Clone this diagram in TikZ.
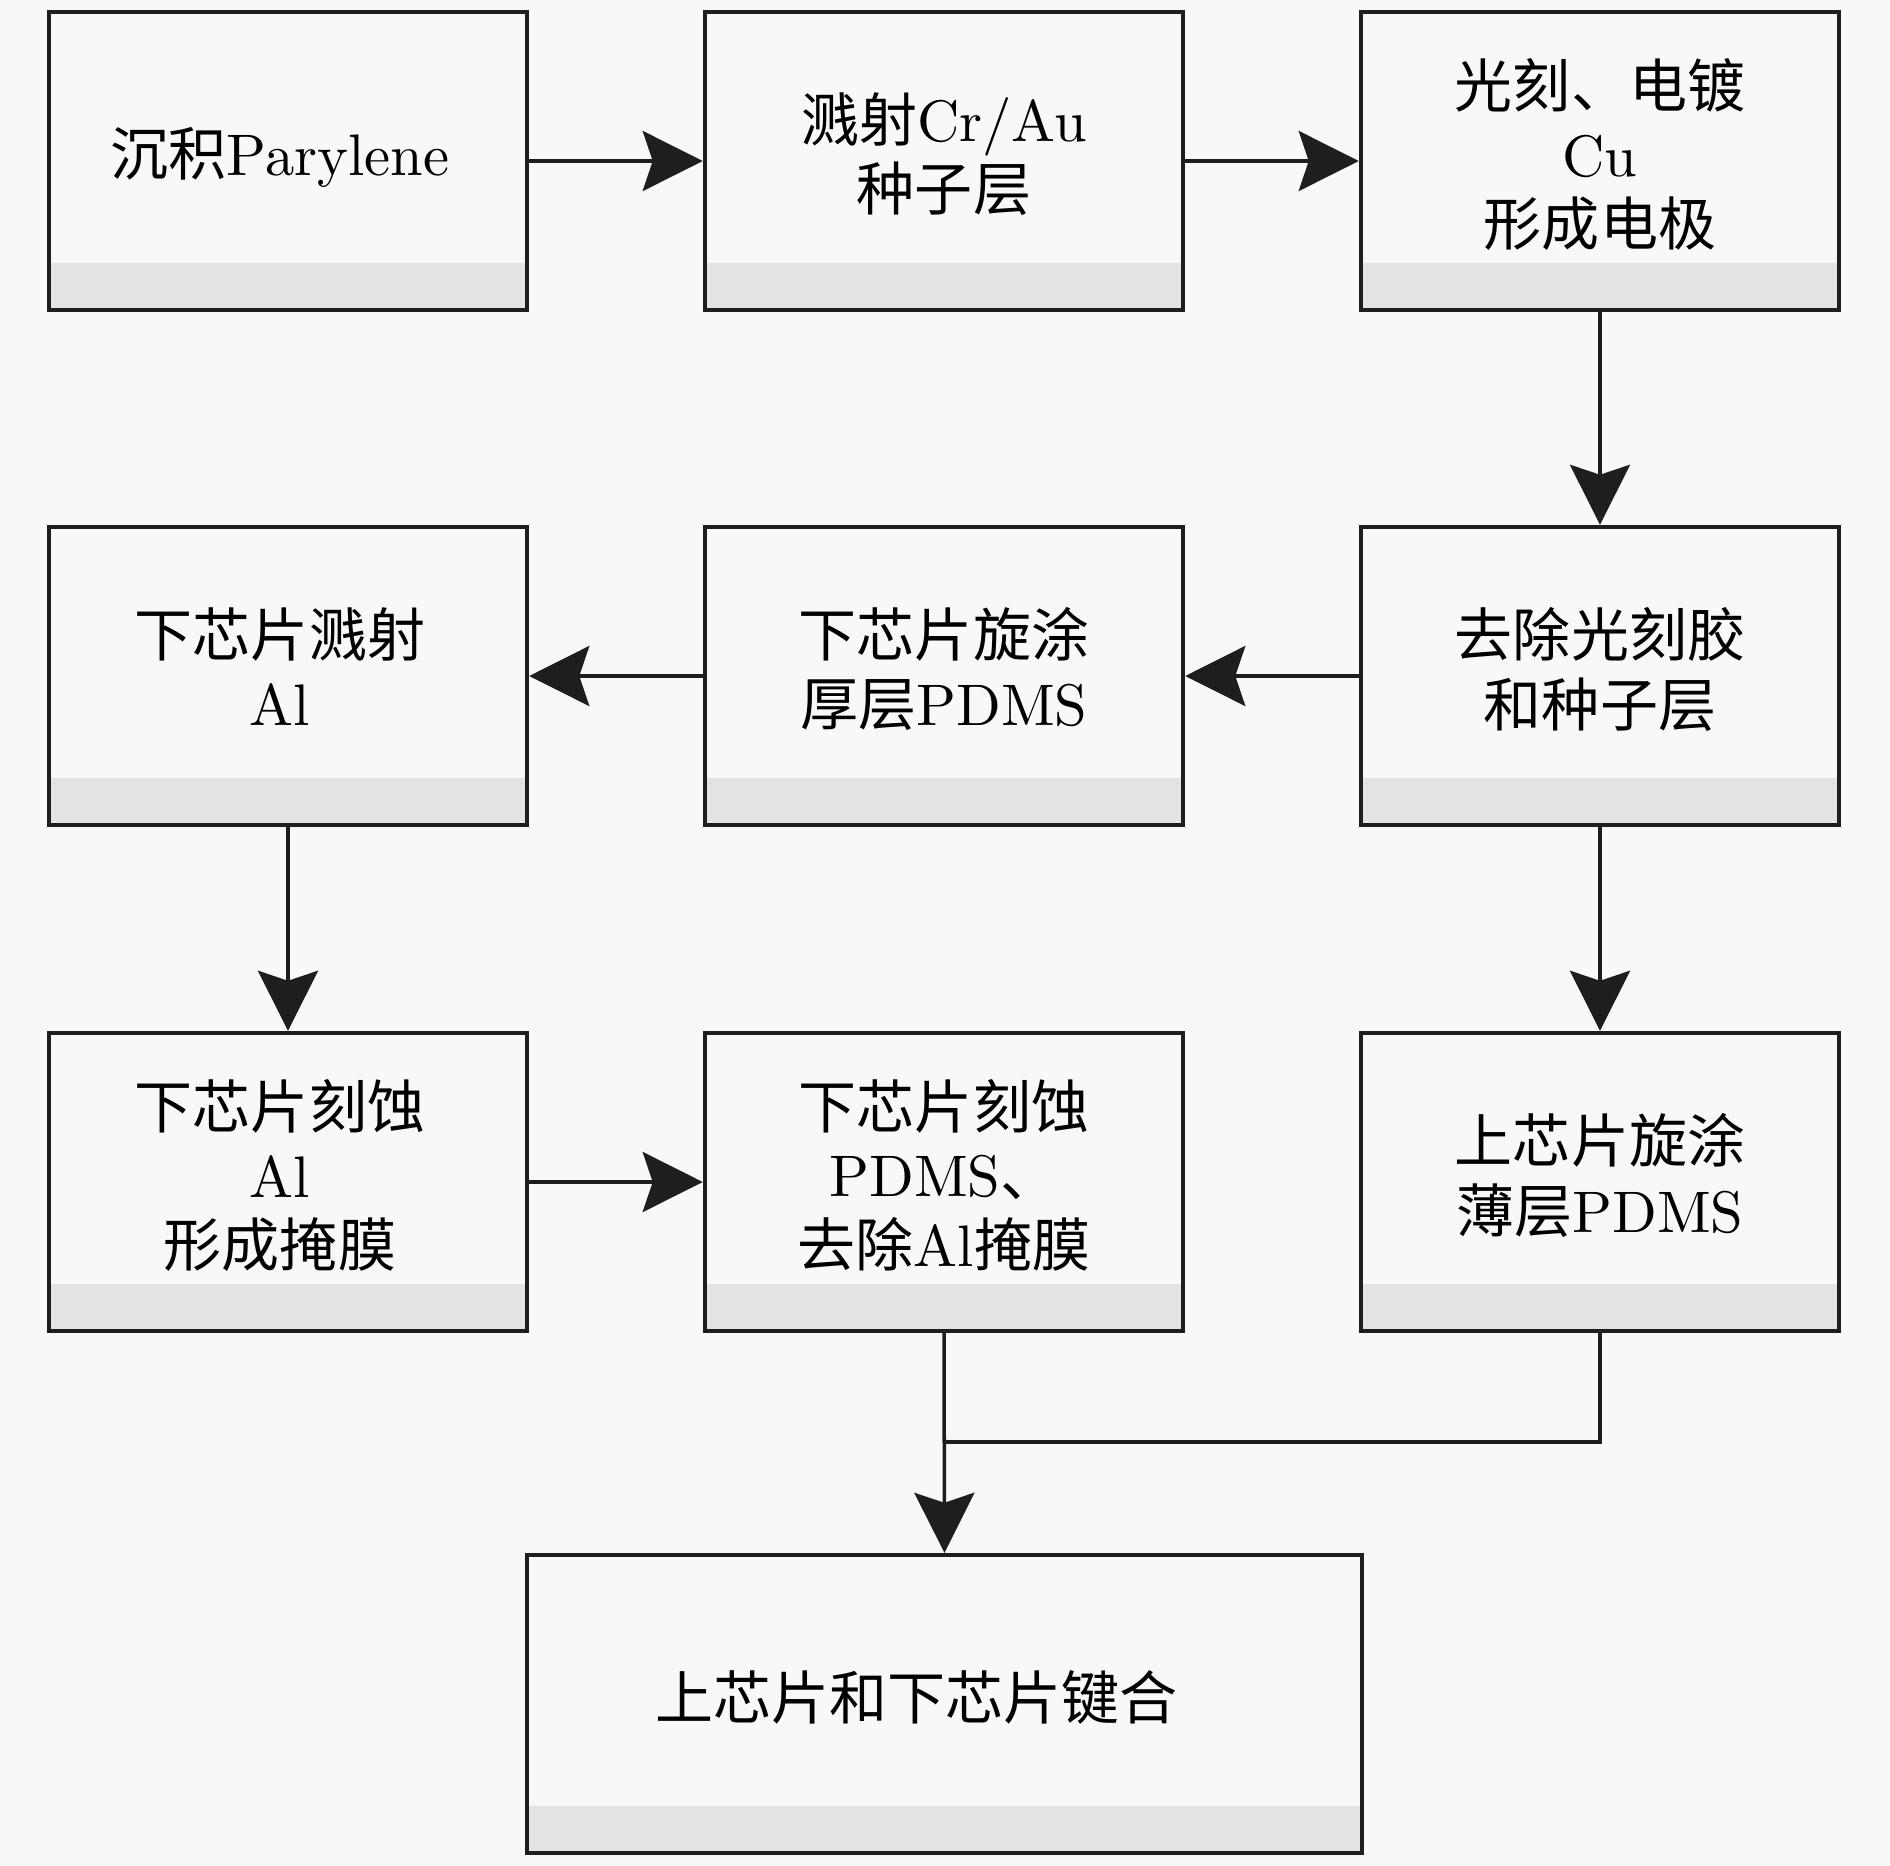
\documentclass[tikz,border=0pt]{standalone}
\usepackage{fontspec}
\setmainfont{lmroman10-regular.otf}[Scale=1.01]
\newfontfamily\cjk{Noto Sans CJK SC}
\usetikzlibrary{arrows.meta}
\definecolor{bgc}{HTML}{F8F8F8}
\definecolor{bandc}{HTML}{E3E3E3}
\definecolor{linec}{HTML}{1E1E1E}
\newcommand{\zh}[1]{{\cjk #1}}
\newcommand{\ls}{\hspace*{0.16cm}}
\newcommand{\tx}[1]{\raisebox{-0.012cm}[\height][\depth]{\begin{tabular}{@{}c@{}}#1\end{tabular}}}
\begin{document}
\begin{tikzpicture}[x=0.01cm,y=-0.01cm,
  proc/.style={draw=linec, line width=1.2pt, fill=bgc,
    minimum width=4.78cm, minimum height=2.98cm, inner sep=0pt,
    align=center, text=black, font=\fontsize{16.5}{19.6}\selectfont,
    path picture={\fill[bandc] ([yshift=0.47cm]path picture bounding box.south west)
      rectangle (path picture bounding box.south east);}},
  wide/.style={proc, minimum width=8.35cm},
  conn/.style={draw=linec, line width=1pt, -{Stealth[length=0.6cm,width=0.6cm,inset=0.1cm]}},
  link/.style={draw=linec, line width=1pt}]
\fill[bgc] (0,0) rectangle (1890,1866);
\useasboundingbox (0,0) rectangle (1890,1866);

\node[proc] (b1) at (288,161) {\tx{\zh{沉积}Parylene\ls}};
\node[proc] (b2) at (944,161) {\tx{\zh{溅射}Cr/Au\\\zh{种子层}}};
\node[proc] (b3) at (1600,161) {\tx{\zh{光刻、电镀}\\Cu\\\zh{形成电极}}};
\node[proc] (b4) at (1600,676) {\tx{\zh{去除光刻胶}\\\zh{和种子层}}};
\node[proc] (b5) at (944,676) {\tx{\zh{下芯片旋涂}\\\zh{厚层}PDMS}};
\node[proc] (b6) at (288,676) {\tx{\zh{下芯片溅射}\ls\\Al\ls}};
\node[proc] (b7) at (288,1182) {\tx{\zh{下芯片刻蚀}\ls\\Al\ls\\\zh{形成掩膜}\ls}};
\node[proc] (b8) at (944,1182) {\tx{\zh{下芯片刻蚀}\\PDMS\zh{、}\\\zh{去除}Al\zh{掩膜}}};
\node[proc] (b9) at (1600,1182) {\tx{\zh{上芯片旋涂}\\\zh{薄层}PDMS}};
\node[wide] (b10) at (944.5,1704) {\tx{\zh{上芯片和下芯片键合}\hspace*{0.56cm}}};
\coordinate (j) at (944,1442);

\draw[conn] (b1) -- (b2);
\draw[conn] (b2) -- (b3);
\draw[conn] (b3) -- (b4);
\draw[conn] (b4) -- (b5);
\draw[conn] (b5) -- (b6);
\draw[conn] (b6) -- (b7);
\draw[conn] (b4) -- (b9);
\draw[conn] (b7) -- (b8);
\draw[conn] (b8.south) -- (b10.north);
\draw[link] (b9.south) |- (j);
\end{tikzpicture}
\end{document}
